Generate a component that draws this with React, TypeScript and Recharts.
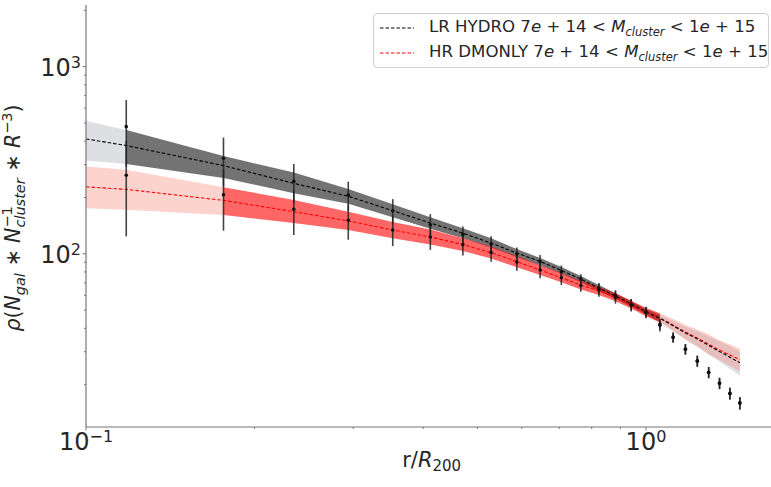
import React from "react";
import {
  ComposedChart,
  Area,
  Line,
  Scatter,
  ErrorBar,
  XAxis,
  YAxis,
  Legend,
  Label,
} from "recharts";

const FONT = "DejaVu Sans, sans-serif";
const TEXT = "#262626";
const AXIS = "#777";

// fit curves (r/R200 grid)
const fitR = [0.1, 0.118, 0.176, 0.235, 0.294, 0.353, 0.412, 0.471, 0.529, 0.588, 0.647, 0.706, 0.765, 0.824, 0.882, 0.941, 1.0, 1.059, 1.118, 1.176, 1.235, 1.294, 1.353, 1.412, 1.471];
const hydroFit = [411, 379, 296, 238, 203, 170, 146, 129, 114, 101, 91, 81.5, 73.3, 65.6, 59.5, 54, 49, 45.2, 41.3, 37.8, 35.1, 32.4, 30.1, 28.0, 26.2];
const hydroLo = [315, 302, 254, 211, 185, 157, 136, 121, 108, 96, 87, 78.2, 70.5, 63.2, 57.5, 52.2, 47.2, 43.2, 38.8, 35.0, 31.9, 29.0, 26.6, 24.3, 22.4];
const hydroHi = [513, 459, 333, 272, 222, 184, 157, 137, 121, 106, 95, 85, 76.2, 68.1, 61.6, 55.9, 50.8, 47.3, 43.9, 40.8, 38.6, 36.2, 34.1, 32.2, 30.0];
const dmFit = [228, 221, 193, 168, 150, 134, 123, 112, 101.6, 90.8, 82, 74.5, 68, 63.5, 58.6, 53.5, 48.8, 45.5, 41.6, 38.2, 35.5, 32.9, 30.6, 28.8, 27.2];
const dmLo = [175, 172, 161, 146, 134, 121, 112, 103.4, 94.4, 84.7, 77.1, 70.4, 64.5, 60.3, 55.8, 51, 46.4, 43, 38.6, 34.9, 32.0, 29.1, 27.1, 25.2, 23.6];
const dmHi = [293, 281, 227, 194, 168, 148, 135, 121.3, 109.4, 97.3, 87.2, 78.9, 71.7, 66.8, 61.5, 56.1, 51.3, 48.2, 44.8, 41.8, 39.4, 37.2, 34.5, 32.8, 31.2];

// fitted ranges (outside: extrapolated, light band)
const hydroFitRange = [0.118, 1.059];
const dmFitRange = [0.176, 1.059];

// measured profiles
const binR = [0.118, 0.176, 0.235, 0.294, 0.353, 0.412, 0.471, 0.529, 0.588, 0.647, 0.706, 0.765, 0.824, 0.882, 0.941, 1.0, 1.059, 1.118, 1.176, 1.235, 1.294, 1.353, 1.412, 1.471];
const hydroRho = [478, 324, 244, 206, 170, 143, 127, 113, 100, 91, 80.5, 73.3, 65.3, 59.8, 53.6, 48.9, 42.2, 35.9, 31, 26.8, 23.3, 20.4, 18, 16];
const hydroErr = [186, 94, 58, 37, 26, 20, 13, 11, 8, 7.5, 6, 4.5, 4.5, 4, 3.8, 3.2, 2.8, 2.2, 2, 1.8, 1.6, 1.4, 1.3, 1.2];
const dmRho = [263, 207, 173, 151, 134, 123, 112, 101.6, 90.3, 82, 74.5, 67.7, 64, 58.7, 53.2, 48.6, 41.5, 35.7, 30.9, 26.7, 23.2, 20.3, 17.9, 15.9];
const dmErr = [139, 74, 47, 32, 24, 18, 14, 11, 9, 8, 6.3, 5, 5, 4.5, 4, 3.3, 3, 2.2, 2, 1.8, 1.6, 1.4, 1.3, 1.2];

const xTicks = [0.1, 0.2, 0.3, 0.4, 0.5, 0.6, 0.7, 0.8, 0.9, 1];
const yTicks = [20, 30, 40, 50, 60, 70, 80, 90, 100, 200, 300, 400, 500, 600, 700, 800, 900, 1000, 2000];
const majorExp: Record<number, string> = { 0.1: "\u22121", 1: "0", 100: "2", 1000: "3" };

const legendNames = ["LR HYDRO", "HR DMONLY"];
const legendColors = ["#000", "red"];

const inside = (r: number, range: number[]) => r >= range[0] && r <= range[1];

const rows = fitR.map((r, i) => ({
  r,
  hydroFit: hydroFit[i],
  dmFit: dmFit[i],
  hydroDark: inside(r, hydroFitRange) ? [hydroLo[i], hydroHi[i]] : null,
  hydroLight: r <= hydroFitRange[0] || r >= hydroFitRange[1] ? [hydroLo[i], hydroHi[i]] : null,
  dmDark: inside(r, dmFitRange) ? [dmLo[i], dmHi[i]] : null,
  dmLight: r <= dmFitRange[0] || r >= dmFitRange[1] ? [dmLo[i], dmHi[i]] : null,
}));

const hydroPts = binR.map((r, i) => ({ r, y: hydroRho[i], err: hydroErr[i] }));
const dmPts = binR.map((r, i) => ({ r, y: dmRho[i], err: dmErr[i] }));

const XTick = (props: any) => {
  const { x, y, payload } = props;
  const exp = majorExp[payload.value];
  return (
    <g>
      <line x1={x} x2={x} y1={y} y2={y + (exp ? 3.5 : 2)} stroke={AXIS} />
      {exp && (
        <text x={x} y={y + 23} textAnchor="middle" fontSize={24} fill={TEXT} fontFamily={FONT}>
          <tspan>10</tspan>
          <tspan dy={-8} fontSize={16}>{exp}</tspan>
        </text>
      )}
    </g>
  );
};

const YTick = (props: any) => {
  const { x, y, payload } = props;
  const exp = majorExp[payload.value];
  return (
    <g>
      <line x1={x - (exp ? 3.5 : 2)} x2={x} y1={y} y2={y} stroke={AXIS} />
      {exp && (
        <text x={x - 5} y={y + 9} textAnchor="end" fontSize={24} fill={TEXT} fontFamily={FONT}>
          <tspan>10</tspan>
          <tspan dy={-8} fontSize={16}>{exp}</tspan>
        </text>
      )}
    </g>
  );
};

const Dot = (p: any) => <circle cx={p.cx} cy={p.cy} r={1.8} fill="#111" />;

const MassRange = () => (
  <span>
    7<i>e</i> + 14 &lt; <i>M</i>
    <sub style={{ fontSize: 11.5, fontStyle: "italic", verticalAlign: -4 }}>cluster</sub> &lt; 1<i>e</i> + 15
  </span>
);

const renderLegend = () => (
  <div
    style={{
      position: "relative",
      width: 394,
      height: 53,
      border: "1px solid #cfcfcf",
      borderRadius: 4,
      background: "rgba(255,255,255,0.85)",
      fontFamily: FONT,
      fontSize: 16.6,
      color: TEXT,
    }}
  >
    {legendNames.map((name, i) => (
      <div key={name} style={{ position: "absolute", left: 6, top: 3 + i * 25, height: 22, display: "flex", alignItems: "center", whiteSpace: "nowrap" }}>
        <svg width={34} height={4} style={{ marginRight: 15 }}>
          <line x1={0} x2={34} y1={2} y2={2} stroke={legendColors[i]} strokeWidth={1} strokeDasharray="3.5 2" />
        </svg>
        <span>
          {name} <MassRange />
        </span>
      </div>
    ))}
  </div>
);

const YLabel = () => (
  <text transform="rotate(-90 20 218)" x={20} y={218} textAnchor="middle" fontSize={20.5} fill={TEXT} fontFamily={FONT}>
    <tspan fontStyle="italic">ρ</tspan>
    <tspan>(</tspan>
    <tspan fontStyle="italic">N</tspan>
    <tspan fontStyle="italic" fontSize={14.5} dy={5}>gal</tspan>
    <tspan dy={-5}> ∗ </tspan>
    <tspan fontStyle="italic">N</tspan>
    <tspan fontSize={14.5} dy={-8}>−1</tspan>
    <tspan fontStyle="italic" fontSize={14.5} dx={-21.4} dy={13}>cluster</tspan>
    <tspan dy={-5}> ∗ </tspan>
    <tspan fontStyle="italic">R</tspan>
    <tspan fontSize={14.5} dy={-8}>−3</tspan>
    <tspan dy={8}>)</tspan>
  </text>
);

const XLabel = () => (
  <text x={431.7} y={466.7} textAnchor="middle" fontSize={21} fill={TEXT} fontFamily={FONT}>
    r/<tspan fontStyle="italic">R</tspan>
    <tspan fontSize={15} dy={4}>200</tspan>
  </text>
);

export default function App() {
  return (
    <div style={{ position: "absolute", left: 0, top: 0, background: "#fff" }}>
      <ComposedChart width={771} height={487} data={rows} margin={{ top: 5, right: 0, left: 0, bottom: 0 }}>
        <XAxis
          dataKey="r"
          type="number"
          scale="log"
          domain={[0.1, 1.672]}
          allowDataOverflow
          ticks={xTicks}
          interval={0}
          tick={XTick}
          tickLine={false}
          tickSize={0}
          tickMargin={0}
          height={60}
          axisLine={{ stroke: AXIS, strokeWidth: 1.2 }}
        >
          <Label content={XLabel} />
        </XAxis>
        <XAxis xAxisId="top" orientation="top" dataKey="r" type="number" scale="log" domain={[0.1, 1.672]} allowDataOverflow height={0} tick={false} tickLine={false} axisLine={{ stroke: AXIS, strokeWidth: 1.2 }} />
        <YAxis
          type="number"
          scale="log"
          domain={[11.88, 2135]}
          allowDataOverflow
          ticks={yTicks}
          interval={0}
          tick={YTick}
          tickLine={false}
          tickSize={0}
          tickMargin={0}
          width={86}
          axisLine={{ stroke: AXIS, strokeWidth: 1.2 }}
        >
          <Label content={YLabel} />
        </YAxis>
        <Legend layout="vertical" align="center" verticalAlign="middle" content={renderLegend} wrapperStyle={{ position: "absolute", top: 13, left: 373, width: 396, height: 55 }} />

        <Area dataKey="hydroLight" stroke="none" fill="#c8cacf" fillOpacity={0.6} isAnimationActive={false} legendType="none" />
        <Area dataKey="dmLight" stroke="none" fill="#fa8072" fillOpacity={0.35} isAnimationActive={false} legendType="none" />
        <Area dataKey="hydroDark" stroke="none" fill="#444" fillOpacity={0.75} isAnimationActive={false} legendType="none" />
        <Area dataKey="dmDark" stroke="none" fill="red" fillOpacity={0.6} isAnimationActive={false} legendType="none" />
        <Line dataKey="dmFit" stroke="red" strokeWidth={1.1} strokeDasharray="3.5 2" dot={false} isAnimationActive={false} />
        <Line dataKey="hydroFit" stroke="#000" strokeWidth={1.1} strokeDasharray="3.5 2" dot={false} isAnimationActive={false} />

        <Scatter data={hydroPts} dataKey="y" shape={Dot} isAnimationActive={false}>
          <ErrorBar dataKey="err" direction="y" width={0} stroke="#222" strokeWidth={1.6} strokeOpacity={0.85} />
        </Scatter>
        <Scatter data={dmPts} dataKey="y" shape={Dot} isAnimationActive={false}>
          <ErrorBar dataKey="err" direction="y" width={0} stroke="#222" strokeWidth={1.6} strokeOpacity={0.85} />
        </Scatter>
      </ComposedChart>
    </div>
  );
}
